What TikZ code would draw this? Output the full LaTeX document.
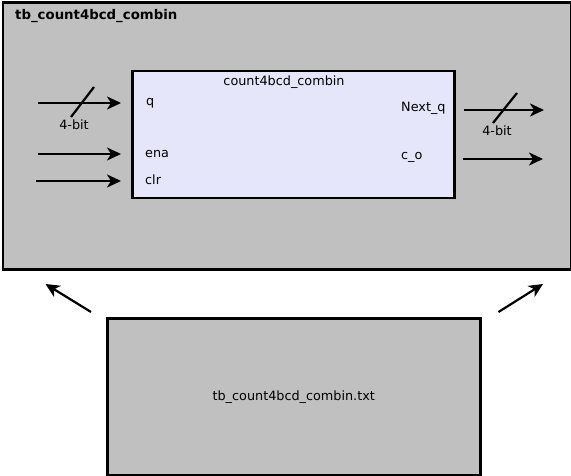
\documentclass[tikz,border=0pt]{standalone}
\usepackage{fontspec}
\setmainfont{DejaVu Sans}
\usetikzlibrary{arrows.meta, positioning}
\definecolor{boxgray}{RGB}{192,192,192}
\definecolor{dutfill}{RGB}{230,230,250}
\tikzstyle{frame} = [rectangle, draw=black, line width=2.5pt, fill=boxgray, font=\fontsize{12.8}{15}\selectfont]
\tikzstyle{block} = [rectangle, draw=black, line width=2.5pt, fill=dutfill]
\tikzstyle{port} = [font=\fontsize{12.8}{15}\selectfont, anchor=base west, inner sep=0pt]
\tikzstyle{width} = [font=\fontsize{12.8}{15}\selectfont, anchor=base, inner sep=0pt]
\tikzstyle{arrow} = [line width=2.2pt, -{Stealth[length=14pt, width=13pt, inset=4pt]}]
\tikzstyle{bus} = [line width=2.2pt]

\begin{document}
\begin{tikzpicture}[x=1pt, y=-1pt]
            \useasboundingbox (0,0) rectangle (571,476);
            \node (tb) [frame, minimum width=568pt, minimum height=267pt, anchor=north west] at (1.5,1.5) {};
            \node (title) [anchor=base west, inner sep=0pt, font=\bfseries\fontsize{13.3}{15}\selectfont] at (15,20) {tb\_count4bcd\_combin};
            \node (dut) [block, minimum width=322pt, minimum height=127pt, anchor=north west] at (131,70) {};
            \node (name) [width] at (284,86) {count4bcd\_combin};
            \node (q) [port] at (146,106) {q};
            \node (ena) [port] at (145,158) {ena};
            \node (clr) [port] at (145,185) {clr};
            \node (nextq) [port] at (401,112) {Next\_q};
            \node (co) [port] at (401,160) {c\_o};
            \coordinate (qin) at (38,103);
            \coordinate (enain) at (38,154);
            \coordinate (clrin) at (36,181);
            \coordinate (nextqout) at (544,110);
            \coordinate (coout) at (543,159);
            \draw [arrow, shorten >=10pt] (qin) -- (qin -| dut.west);
            \draw [arrow, shorten >=10pt] (enain) -- (enain -| dut.west);
            \draw [arrow, shorten >=10pt] (clrin) -- (clrin -| dut.west);
            \draw [arrow, shorten <=8pt] (nextqout -| dut.east) -- (nextqout);
            \draw [arrow, shorten <=7pt] (coout -| dut.east) -- (coout);
            \draw [bus] (71,117) -- (94,87);
            \draw [bus] (493,123) -- (517,93);
            \node (qbits) [width] at (74,130) {4-bit};
            \node (nextqbits) [width] at (497,136) {4-bit};
            \node (txt) [frame, minimum width=373pt, minimum height=157pt, anchor=north west] at (106,317) {tb\_count4bcd\_combin.txt};
            \coordinate (tbl) at ([xshift=44pt, yshift=-13pt]tb.south west);
            \coordinate (tbr) at ([xshift=-29pt, yshift=-13pt]tb.south east);
            \draw [arrow] ([xshift=-15pt, yshift=5pt]txt.north west) -- (tbl);
            \draw [arrow] ([xshift=17pt, yshift=5pt]txt.north east) -- (tbr);
        \end{tikzpicture}
\end{document}
